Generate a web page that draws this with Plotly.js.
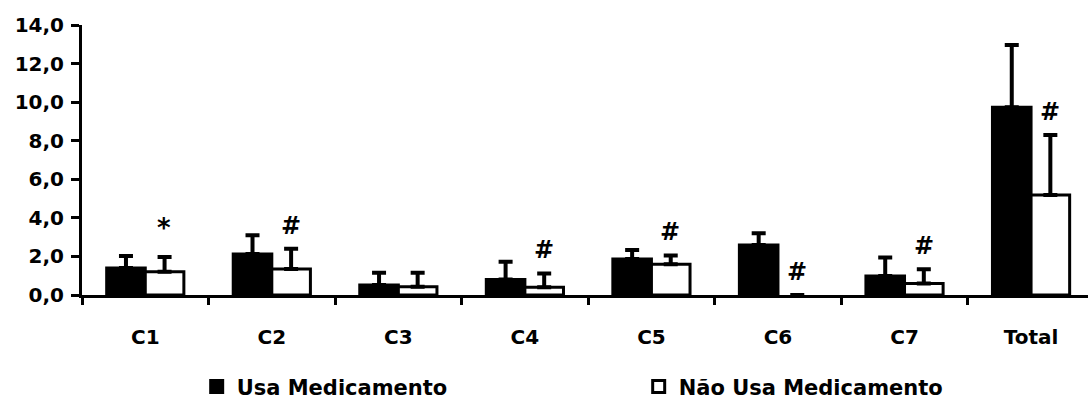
<!DOCTYPE html>
<html>
<head>
<meta charset="utf-8">
<script src="https://cdn.plot.ly/plotly-3.0.1.min.js"></script>
<style>
  html, body { margin: 0; padding: 0; background: #fff; }
  #chart { width: 1088px; height: 412px; }
</style>
</head>
<body>
<div id="chart"></div>
<script>
// ---- data ----
const categories = ['C1', 'C2', 'C3', 'C4', 'C5', 'C6', 'C7', 'Total'];
const usaValues  = [1.40, 2.13, 0.52, 0.81, 1.87, 2.59, 0.98, 9.73];
const usaErrors  = [0.62, 0.97, 0.64, 0.92, 0.46, 0.61, 0.97, 3.23];
const naoValues  = [1.20, 1.35, 0.43, 0.40, 1.59, 0.00, 0.60, 5.18];
const naoErrors  = [0.77, 1.05, 0.73, 0.72, 0.46, null, 0.73, 3.11];
const naoMarks   = ['*', '#', '', '#', '#', '#', '#', '#'];
const seriesNames = ['Usa Medicamento', 'Não Usa Medicamento'];

const FONT = 'DejaVu Sans, Liberation Sans, Arial, sans-serif';
const zeros = categories.map(() => 0);

function errBar(arr) {
  return { type: 'data', array: arr, arrayminus: zeros, symmetric: false,
           visible: true, color: '#000', thickness: 4, width: 7 };
}

const traces = [
  { type: 'bar', name: seriesNames[0], x: categories, y: usaValues,
    marker: { color: '#000', line: { color: '#000', width: 3 } },
    error_y: errBar(usaErrors) },
  { type: 'bar', name: seriesNames[1], x: categories, y: naoValues,
    marker: { color: '#fff', line: { color: '#000', width: naoValues.map(v => v > 0 ? 3 : 0) } },
    error_y: errBar(naoErrors) }
];

const annotations = categories.map((c, i) => ({
  x: c, y: naoValues[i] + (naoErrors[i] || 0), xref: 'x', yref: 'y',
  text: naoMarks[i], showarrow: false, xshift: 19,
  yshift: naoMarks[i] === '*' ? 12 : 7,
  yanchor: 'bottom',
  font: { family: FONT, size: naoMarks[i] === '*' ? 26 : 24, color: '#000', weight: 'bold' }
})).filter(a => a.text);

const layout = {
  width: 1088, height: 412,
  margin: { l: 82, r: 0, t: 25, b: 117, autoexpand: false },
  paper_bgcolor: '#fff', plot_bgcolor: '#fff',
  separators: ',.',
  barmode: 'group', bargap: 0.39, bargroupgap: 0,
  font: { family: FONT, size: 20, color: '#000', weight: 'bold' },
  xaxis: {
    type: 'category', range: [-0.5, 7.45],
    showline: true, linecolor: '#000', linewidth: 3,
    ticks: 'outside', tickson: 'boundaries', ticklen: 7, tickwidth: 3, tickcolor: '#000',
    ticklabelstandoff: 22,
    showgrid: false, zeroline: false, fixedrange: true, automargin: false,
    tickfont: { family: FONT, size: 20, color: '#000', weight: 'bold' }
  },
  yaxis: {
    range: [0, 14], dtick: 2, tick0: 0, tickformat: '.1f',
    showline: true, linecolor: '#000', linewidth: 3,
    ticks: 'outside', ticklen: 8, tickwidth: 3, tickcolor: '#000',
    ticklabelstandoff: 3,
    showgrid: false, zeroline: false, fixedrange: true, automargin: false,
    tickfont: { family: FONT, size: 20, color: '#000', weight: 'bold' }
  },
  showlegend: true,
  legend: {
    orientation: 'h', x: 0.114, xanchor: 'left', y: -0.34, yanchor: 'middle',
    entrywidth: 397, entrywidthmode: 'pixels',
    font: { family: FONT, size: 21, color: '#000', weight: 'bold' },
    bgcolor: 'rgba(0,0,0,0)', borderwidth: 0, traceorder: 'normal'
  },
  annotations: annotations
};

Plotly.newPlot('chart', traces, layout, { displayModeBar: false, staticPlot: true });
</script>
</body>
</html>
